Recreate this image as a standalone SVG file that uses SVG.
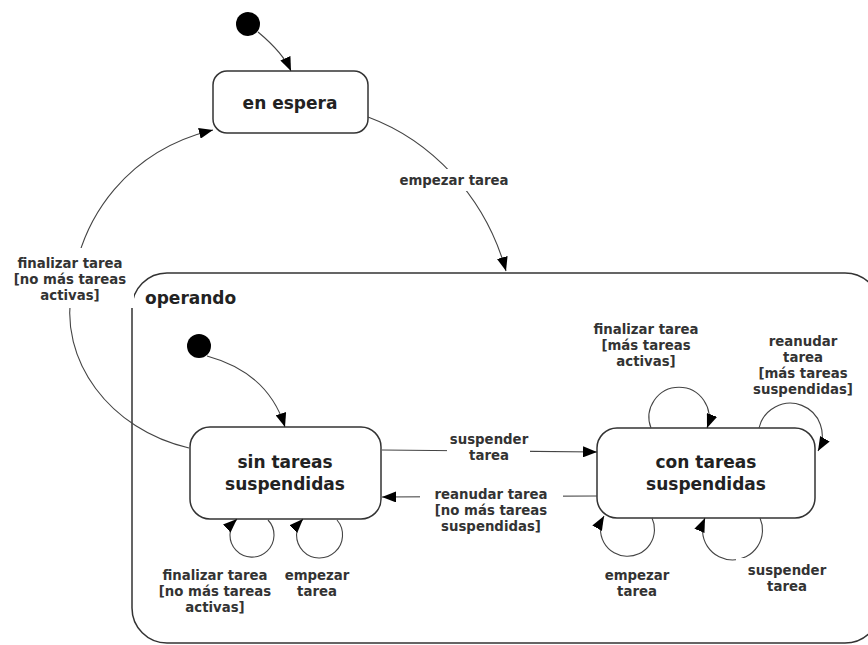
<svg xmlns="http://www.w3.org/2000/svg" width="868" height="645" viewBox="0 0 868 645">
  <style>
    .state { fill: #ffffff; stroke: #333333; stroke-width: 1.5; }
    .name { font-family: "DejaVu Sans", Verdana, sans-serif; font-size: 17px; font-weight: bold; fill: #222222; text-anchor: middle; }
    .edge { fill: none; stroke: #444444; stroke-width: 1.1; marker-end: url(#arrow); }
    .lbl { font-family: "DejaVu Sans", Verdana, sans-serif; font-size: 13.3px; font-weight: bold; fill: #333333; text-anchor: middle; }
    .bg { fill: #ffffff; }
    .init { fill: #000000; }
  </style>
  <defs>
    <marker id="arrow" viewBox="0 0 14 11" refX="14" refY="5.5" markerWidth="14" markerHeight="11" markerUnits="userSpaceOnUse" orient="auto">
      <path d="M0,0 L14,5.5 L0,11 z" fill="#000000"/>
    </marker>
  </defs>

  <rect width="868" height="645" fill="#ffffff"/>

  <!-- composite state -->
  <g id="operando">
    <rect class="state" x="132" y="273" width="748" height="370" rx="35"/>
    <text class="name" x="145" y="304" style="text-anchor:start">operando</text>
  </g>

  <g id="initial-top">
    <circle class="init" cx="248" cy="24" r="12"/>
  </g>

  <g id="en-espera">
    <rect class="state" x="213" y="71" width="155" height="62" rx="14"/>
    <text class="name" x="290" y="109">en espera</text>
  </g>

  <g id="initial-operando">
    <circle class="init" cx="199" cy="346" r="12"/>
  </g>

  <g id="sin-tareas">
    <rect class="state" x="190" y="427" width="191" height="92" rx="20"/>
    <text class="name" x="285" y="468">sin tareas</text>
    <text class="name" x="285" y="490">suspendidas</text>
  </g>

  <g id="con-tareas">
    <rect class="state" x="597" y="428" width="218" height="90" rx="20"/>
    <text class="name" x="706" y="468">con tareas</text>
    <text class="name" x="706" y="490">suspendidas</text>
  </g>

  <g id="connectors">
    <path class="edge" d="M258,32 C270,42 284,55 291,71"/>
    <path class="edge" d="M368,117 C430,140 485,195 506,271"/>
    <path class="edge" d="M189,448 C110,430 58,360 72,290 C80,215 130,150 213,130"/>
    <path class="edge" d="M207,356 C240,365 272,385 285,427"/>
    <path class="edge" d="M382,450 L597,452"/>
    <path class="edge" d="M597,496 L382,497"/>
    <!-- self transitions on sin tareas -->
    <path class="edge" d="M268,520 A22,22 0 1 1 237,519"/>
    <path class="edge" d="M337,520 A23,23 0 1 1 303,519"/>
    <!-- self transitions on con tareas -->
    <path class="edge" d="M651,428 A30,30 0 1 1 707,428"/>
    <path class="edge" d="M759,428 A32,32 0 1 1 818,451"/>
    <path class="edge" d="M652,518 A27,27 0 1 1 604,516"/>
    <path class="edge" d="M760,518 A30,30 0 1 1 705,518"/>

    <!-- transition labels -->
    <rect class="bg" x="396" y="169" width="116" height="22"/>
    <text class="lbl" x="454" y="185">empezar tarea</text>

    <rect class="bg" x="8" y="248" width="126" height="60"/>
    <text class="lbl" x="70" y="268">finalizar tarea</text>
    <text class="lbl" x="70" y="284">[no más tareas</text>
    <text class="lbl" x="70" y="300">activas]</text>

    <rect class="bg" x="447" y="431" width="83" height="35"/>
    <text class="lbl" x="489" y="444">suspender</text>
    <text class="lbl" x="489" y="460">tarea</text>

    <rect class="bg" x="420" y="480" width="143" height="58"/>
    <text class="lbl" x="491" y="499">reanudar tarea</text>
    <text class="lbl" x="491" y="515">[no más tareas</text>
    <text class="lbl" x="491" y="531">suspendidas]</text>

    <text class="lbl" x="215" y="580">finalizar tarea</text>
    <text class="lbl" x="215" y="596">[no más tareas</text>
    <text class="lbl" x="215" y="612">activas]</text>

    <text class="lbl" x="317" y="580">empezar</text>
    <text class="lbl" x="317" y="596">tarea</text>

    <text class="lbl" x="646" y="334">finalizar tarea</text>
    <text class="lbl" x="646" y="350">[más tareas</text>
    <text class="lbl" x="646" y="366">activas]</text>

    <text class="lbl" x="803" y="346">reanudar</text>
    <text class="lbl" x="803" y="362">tarea</text>
    <text class="lbl" x="803" y="378">[más tareas</text>
    <text class="lbl" x="803" y="394">suspendidas]</text>

    <text class="lbl" x="637" y="580">empezar</text>
    <text class="lbl" x="637" y="596">tarea</text>

    <rect class="bg" x="736" y="558" width="100" height="38"/>
    <text class="lbl" x="787" y="575">suspender</text>
    <text class="lbl" x="787" y="591">tarea</text>
  </g>
</svg>
